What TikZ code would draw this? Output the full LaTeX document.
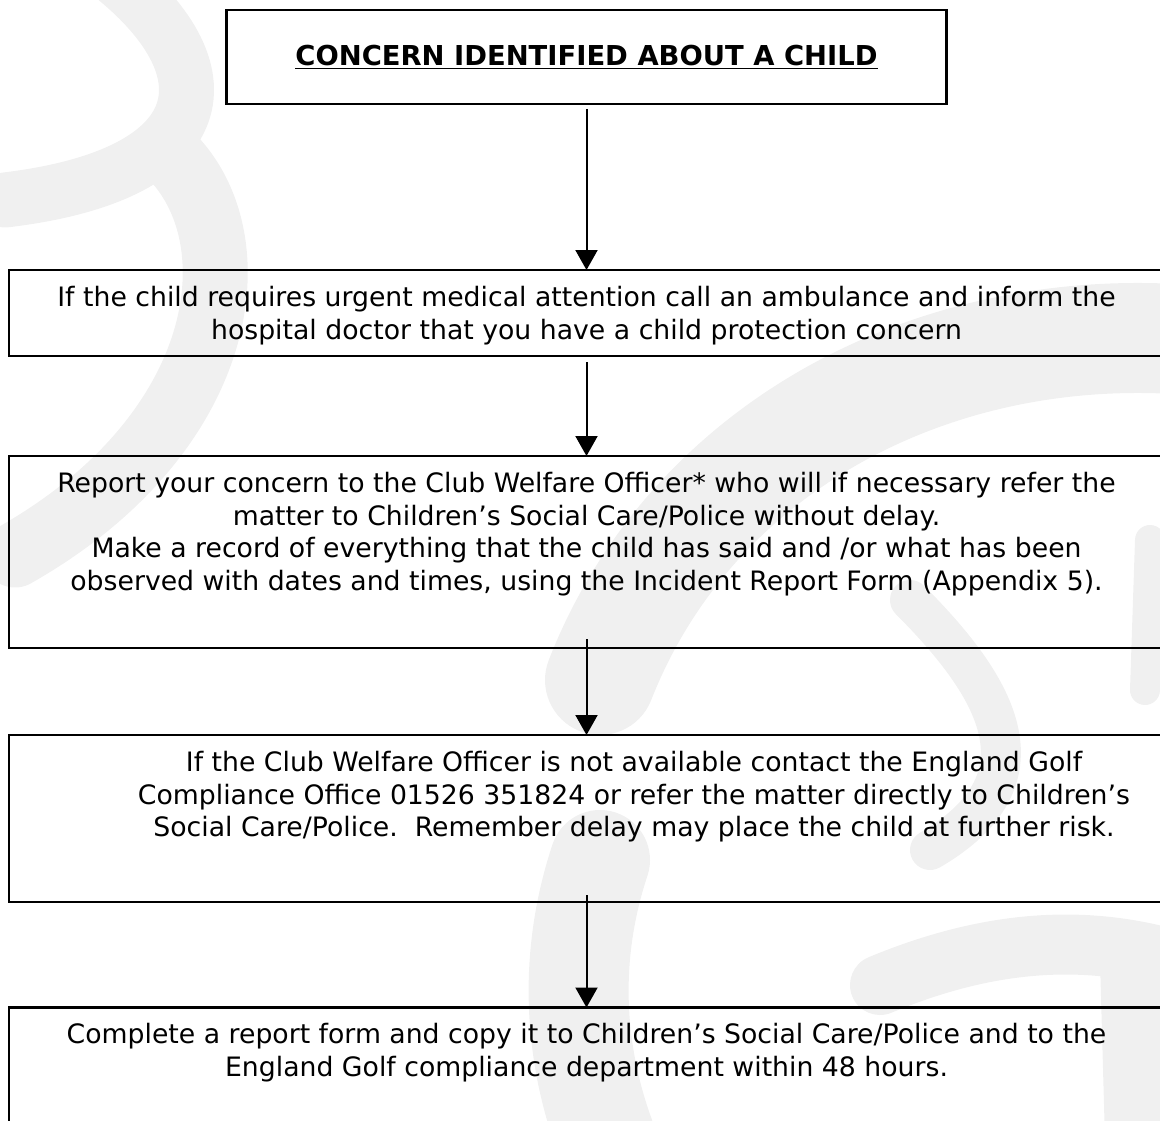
\documentclass[tikz,border=0pt]{standalone}
\usepackage{fontspec}
\setmainfont{DejaVu Sans}
\usetikzlibrary{arrows.meta,positioning}
\tikzset{
  stepframe/.style={draw=black, line width=2.6pt, inner sep=0pt, outer sep=0pt, minimum width=1155pt},
  steptext/.style={align=center, inner sep=0pt, anchor=north, font=\fontsize{26.7pt}{32.6pt}\selectfont},
  headtext/.style={font=\fontsize{27.4pt}{32pt}\selectfont\bfseries},
  flow/.style={-{Triangle[length=20pt,width=22pt]}, line width=2pt},
  wmark/.style={draw=black!6, line cap=round},
}

\begin{document}
\begin{tikzpicture}[x=1pt,y=-1pt]
\useasboundingbox (0,0) rectangle (1160,1121);
% faint ornament behind the chart
\draw[wmark, line width=55pt] (105,-30) .. controls (235,70) and (215,175) .. (5,200);
\draw[wmark, line width=65pt] (165,150) .. controls (255,230) and (235,430) .. (15,555);
\draw[wmark, line width=110pt] (600,680) .. controls (690,450) and (930,320) .. (1190,340);
\draw[wmark, line width=40pt] (910,600) .. controls (1000,690) and (1050,780) .. (930,850);
\draw[wmark, line width=30pt] (1150,540) -- (1145,690);
\draw[wmark, line width=100pt] (600,860) .. controls (570,950) and (570,1050) .. (610,1150);
\draw[wmark, line width=60pt] (880,985) .. controls (1000,935) and (1100,935) .. (1190,965);
\draw[wmark, line width=70pt] (1135,960) -- (1140,1140);

% boxes
\node[stepframe, minimum width=720pt, minimum height=94pt, headtext] (concern) at (586.5,57) {\underline{CONCERN IDENTIFIED ABOUT A CHILD}};
\node[stepframe, minimum height=86pt, anchor=north] (urgent) at (586.5,270) {};
\node[stepframe, minimum height=192pt, below=100pt of urgent] (report) {};
\node[stepframe, minimum height=167pt, below=87pt of report] (unavailable) {};
\node[stepframe, minimum height=150pt, below=105.5pt of unavailable] (complete) {};

% texts
\node[steptext, below=16pt of urgent.north] (urgenttxt) {If the child requires urgent medical attention call an ambulance and inform the\\hospital doctor that you have a child protection concern};
\node[steptext, below=16pt of report.north] (reporttxt) {Report your concern to the Club Welfare Officer* who will if necessary refer the\\matter to Children’s Social Care/Police without delay.\\Make a record of everything that the child has said and /or what has been\\observed with dates and times, using the Incident Report Form (Appendix 5).};
\node[steptext, below=16pt of unavailable.north, xshift=47.5pt] (unavailabletxt) {If the Club Welfare Officer is not available contact the England Golf\\Compliance Office 01526 351824 or refer the matter directly to Children’s\\Social Care/Police.\ \ Remember delay may place the child at further risk.};
\node[steptext, below=16pt of complete.north] (completetxt) {Complete a report form and copy it to Children’s Social Care/Police and to the\\England Golf compliance department within 48 hours.};

% arrows
\draw[flow] ([yshift=-5pt]concern.south) -- (concern.south |- urgent.north);
\draw[flow] ([yshift=-6pt]urgent.south) -- (urgent.south |- report.north);
\draw[flow] ([yshift=9pt]report.south) -- (report.south |- unavailable.north);
\draw[flow] ([yshift=7pt]unavailable.south) -- (unavailable.south |- complete.north);
\end{tikzpicture}
\end{document}
